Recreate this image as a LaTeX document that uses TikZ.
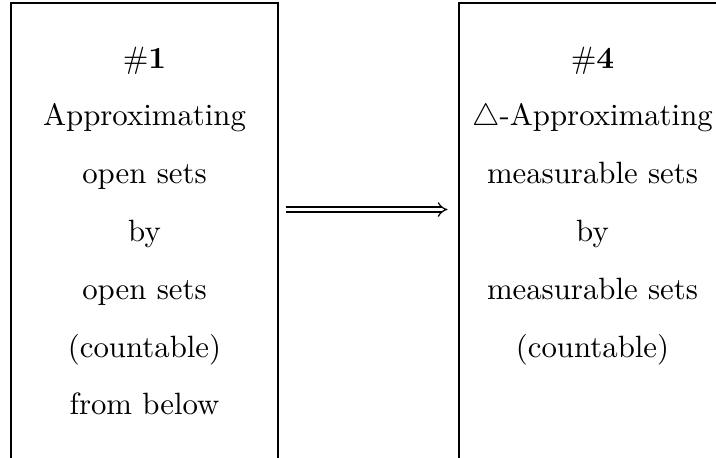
\documentclass[tikz,border=0pt]{standalone}
\usetikzlibrary{arrows.meta}
\begin{document}
\begin{tikzpicture}[x=0.3247pt,y=-0.3247pt,
  boxstyle/.style={draw, line width=0.4pt, minimum width=86.7pt, minimum height=154.9pt, inner sep=0pt},
  linestyle/.style={anchor=base, inner sep=0pt, font=\fontsize{10pt}{12pt}\selectfont}]
\clip (0,0) rectangle (716,457);
\node[boxstyle] (L) at (144.5,241.5) {};
\node[boxstyle] (R) at (592.5,241.5) {};
% left texts
\node[linestyle] (l1) at (144.5,68) {$\#$\textbf{1}};
\node[linestyle] (l2) at (144.5,125.8) {Approximating};
\node[linestyle] (l3) at (144.5,183.6) {open sets};
\node[linestyle] (l4) at (144.5,241.4) {by};
\node[linestyle] (l5) at (144.5,299.2) {open sets};
\node[linestyle] (l6) at (144.5,357) {(countable)};
\node[linestyle] (l7) at (144.5,414.8) {from below};
% right texts
\node[linestyle] (r1) at (592.5,68) {$\#$\textbf{4}};
\node[linestyle] (r2) at (592.5,125.8) {$\triangle$-Approximating};
\node[linestyle] (r3) at (592.5,183.6) {measurable sets};
\node[linestyle] (r4) at (592.5,241.4) {by};
\node[linestyle] (r5) at (592.5,299.2) {measurable sets};
\node[linestyle] (r6) at (592.5,357) {(countable)};
% arrow
\coordinate (ay) at (0,209.5);
\draw[double, double distance=1.25pt, line width=0.4pt, -{Implies}, shorten <=2.3pt, shorten >=3.5pt]
  (L.east |- ay) -- (R.west |- ay);
\end{tikzpicture}
\end{document}
